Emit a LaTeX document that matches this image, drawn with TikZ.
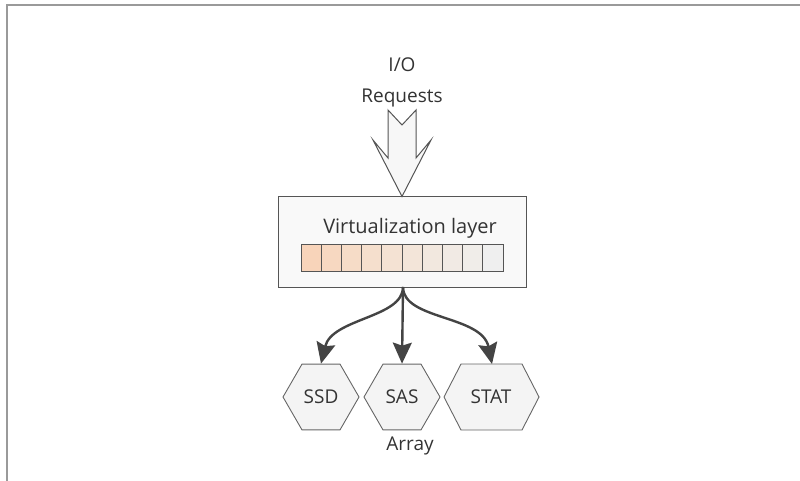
\documentclass[tikz,border=0pt]{standalone}
\usepackage{fontspec}
\setmainfont{Open Sans}
\usetikzlibrary{arrows.meta,shapes.geometric}
\definecolor{txt}{HTML}{333333}
\definecolor{edge}{HTML}{555555}
\definecolor{link}{HTML}{444444}
\definecolor{frame}{HTML}{9A9A9A}
\definecolor{hexfill}{HTML}{F4F4F4}
\definecolor{boxfill}{HTML}{F9F9F9}
\tikzset{
  lbl/.style={text=txt, font=\fontsize{19}{22}\selectfont, inner sep=0pt},
  layerbox/.style={draw=edge, line width=1pt, fill=boxfill},
  cell/.style={draw=edge, line width=0.9pt},
  disk/.style={draw=gray!80!black, line width=0.9pt, fill=hexfill},
  hexnode/.style={disk, regular polygon, regular polygon sides=6,
                  minimum size=76pt, inner sep=0pt},
  feed/.style={draw=link, line width=2.4pt,
               -{Stealth[width=19pt,length=21pt,inset=3pt]}},
  bigarrow/.style={draw=edge, line width=1pt, fill=white!97!black},
}
\begin{document}
\begin{tikzpicture}[x=1pt,y=-1pt]
  \useasboundingbox (0,0) rectangle (800,481);
  % page frame (top and left edges only)
  \draw[frame, line width=1.6pt] (7,481) -- (7,5) -- (800,5);

  % incoming requests
  \node[lbl] (io) at (402,65) {I/O};
  \node[lbl] (req) at (402,98) {Requests};

  % virtualization layer
  \node[layerbox, minimum width=248pt, minimum height=90pt, inner sep=0pt] (layer) at (402,242) {};
  \node[lbl, font=\fontsize{20}{23}\selectfont] (ltitle) at (410,228) {Virtualization layer};

  % hollow block arrow into the layer
  \path[bigarrow] (388,110) -- (402,125) -- (416,110) -- (416,158) -- (431,140)
     -- (layer.north) -- (373,140) -- (388,158) -- cycle;

  % mapping cells, peach fading to grey
  \foreach \i/\c in {0/F8D4BA,1/F7D8C1,2/F6DCC7,3/F5DFCD,4/F4E2D3,5/F3E5D9,6/F2E8DF,7/F1EAE4,8/F0EDE9,9/EFEFEF} {
    \definecolor{cc}{HTML}{\c}
    \draw[cell, fill=cc] ({301+\i*20.2},244) rectangle ({301+(\i+1)*20.2},271);
  }

  % storage devices
  \node[hexnode] (ssd) at (321,397) {};
  \node[lbl] (ssdtxt) at (ssd) {SSD};
  \node[hexnode] (sas) at (402,397) {};
  \node[lbl] (sastxt) at (sas) {SAS};
  \coordinate (stat) at (491,397);
  \path[disk] (444,397) -- (461,364) -- (522,364) -- (539,397) -- (522,430) -- (461,430) -- cycle;
  \node[lbl] (stattxt) at (stat) {STAT};
  \coordinate (statTop) at (492,364);
  \node[lbl] (array) at (410,446) {Array};

  % links from the layer to each device
  \coordinate (fork) at (403,287);
  \draw[feed] (fork) .. controls (403,318) and (332,318) .. (ssd.north);
  \draw[feed] (fork) -- (sas.north);
  \draw[feed] (fork) .. controls (403,320) and (482,315) .. (statTop);
\end{tikzpicture}
\end{document}
